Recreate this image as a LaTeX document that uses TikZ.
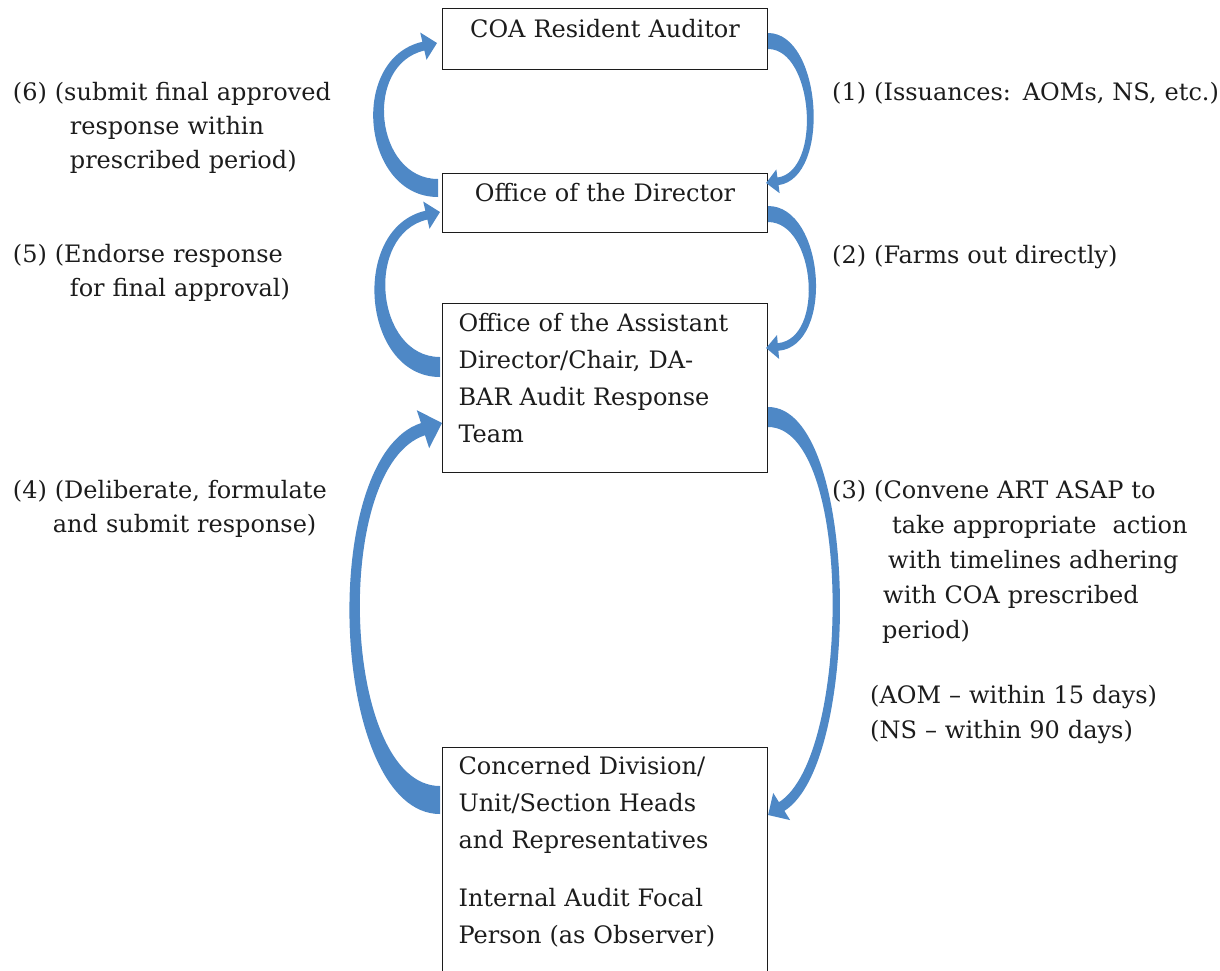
\documentclass[tikz,border=0pt]{standalone}
\usepackage{fontspec}
\setmainfont{DejaVu Serif}
\usetikzlibrary{positioning}
\usetikzlibrary{calc}

\definecolor{arrowblue}{RGB}{78,136,198}
\definecolor{inkgray}{RGB}{28,28,28}

% tail, tip, start angle, head angle, looseness, tail half width, head half width
\newcommand{\bentarrow}[7]{%
  \pgfmathsetmacro{\hin}{#4+180}
  \coordinate (hb) at ($(#2)+(#4+180:#7)$);
  \fill[arrowfill]
    ($(#1)+(#3+90:#6)$) to[out=#3, in=\hin, looseness=#5] ($(hb)+(#4+90:0.32*#7)$)
    -- ($(hb)+(#4+90:#7)$) -- (#2) -- ($(hb)+(#4-90:#7)$)
    -- ($(hb)+(#4-90:0.32*#7)$) to[out=\hin, in=#3, looseness=#5] ($(#1)+(#3-90:#6)$)
    -- cycle;
}

\begin{document}
\begin{tikzpicture}[
  x=1pt, y=1pt,
  box/.style = {draw=inkgray, line width=1.1pt, anchor=north west,
    text width=293pt, inner xsep=16pt, inner ysep=0pt,
    font=\fontsize{24}{37}\selectfont, text=inkgray},
  lbl/.style = {anchor=base west, align=left, inner sep=0pt,
    font=\fontsize{24}{34}\selectfont, text=inkgray},
  arrowfill/.style = {fill=arrowblue}
]

  \useasboundingbox (0,0) rectangle (1220,-970);

  \node[box, align=center, text height=29pt, text depth=32pt] (coa) at (442,-8)
    {COA Resident Auditor};
  \node[box, align=center, text height=28pt, text depth=31pt] (dir) at (442,-173)
    {Office of the Director};
  \node[box, align=left, text height=28pt, text depth=141pt] (asst) at (442,-303)
    {Office of the Assistant\\Director/Chair, DA-\\BAR Audit Response\\Team};
  \node[box, align=left, text height=27pt, text depth=211pt] (unit) at (442,-747)
    {Concerned Division/\\Unit/Section Heads\\and Representatives\\[21pt]
     Internal Audit Focal\\Person (as Observer)};

  % labels
  \node[lbl, text width=345pt] (lab6) at (12.7,-100)
    {(6) (submit final approved\\\hspace*{57pt}response within\\\hspace*{57pt}prescribed period)};
  \node[lbl, text width=345pt] (lab5) at (12.7,-262)
    {(5) (Endorse response\\\hspace*{57pt}for final approval)};
  \node[lbl, text width=345pt] (lab4) at (12.7,-498)
    {(4) (Deliberate, formulate\\\hspace*{40pt}and submit response)};
  \node[lbl, text width=388pt] (lab1) at (832,-100)
    {(1) (Issuances: AOMs, NS, etc.)};
  \node[lbl, text width=388pt] (lab2) at (832,-263)
    {(2) (Farms out directly)};
  \node[lbl, text width=388pt, font=\fontsize{24}{35}\selectfont] (lab3) at (832,-498)
    {(3) (Convene ART ASAP to\\\hspace*{60pt}take appropriate\ \ action\\
     \hspace*{56pt}with timelines adhering\\\hspace*{51pt}with COA prescribed\\
     \hspace*{50pt}period)};
  \node[lbl, text width=340pt, font=\fontsize{24}{35}\selectfont] (labdays) at (870,-703)
    {(AOM -- within 15 days)\\(NS -- within 90 days)};

  % arrow ends
  \coordinate (t1) at ([yshift=-33]coa.north east);
  \coordinate (h1) at ([shift={(-2,-10)}]dir.north east);
  \coordinate (t2) at ([yshift=-41]dir.north east);
  \coordinate (h2) at ([shift={(-2,-45)}]asst.north east);
  \coordinate (t3) at ([yshift=-114]asst.north east);
  \coordinate (h3) at ([yshift=-68]unit.north east);
  \coordinate (t4) at ([shift={(-2,-53)}]unit.north west);
  \coordinate (h4) at ([yshift=-120]asst.north west);
  \coordinate (t5) at ([shift={(-2,-64)}]asst.north west);
  \coordinate (h5) at ([shift={(-2,-39)}]dir.north west);
  \coordinate (t6) at ([shift={(-4,-15)}]dir.north west);
  \coordinate (h6) at ([shift={(-5,-35)}]coa.north west);

  \bentarrow{t1}{h1}{0}{188}{0.9}{8}{12}
  \bentarrow{t2}{h2}{0}{185}{1.0}{8}{12}
  \bentarrow{t3}{h3}{0}{212}{0.58}{10}{16}
  \bentarrow{t4}{h4}{180}{18}{0.72}{14}{20}
  \bentarrow{t5}{h5}{180}{13}{1.2}{10}{14}
  \bentarrow{t6}{h6}{180}{13}{1.25}{9}{14}

\end{tikzpicture}
\end{document}
